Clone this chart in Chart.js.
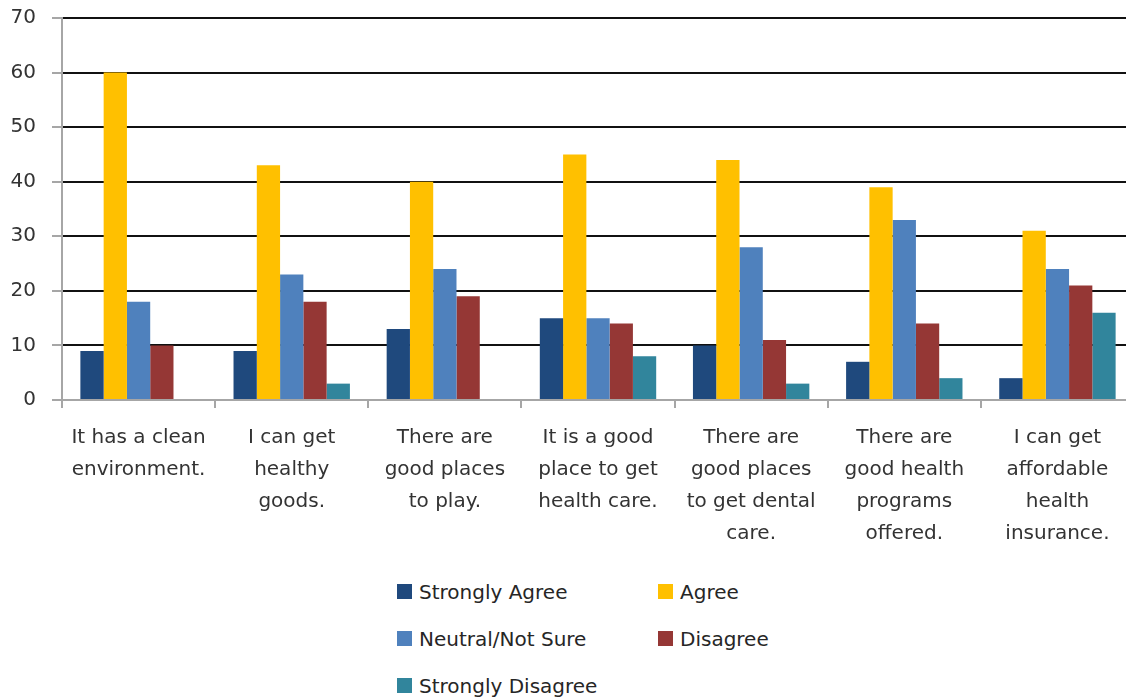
<!DOCTYPE html>
<html lang="en">
<head>
    <meta charset="UTF-8">
    <title>Community Health Survey</title>
    <script src="https://cdn.jsdelivr.net/npm/chart.js"></script>
    <style>
        body {
            margin: 0;
            background: #fff;
            font-family: "DejaVu Sans", sans-serif;
            overflow: hidden;
        }
        #wrap {
            position: relative;
            width: 1126px;
            height: 700px;
            overflow: hidden;
        }
        /* plot runs a little past the right edge, like the cropped original */
        #chartBox {
            position: absolute;
            left: 0;
            top: 0;
            width: 1134px;
            height: 560px;
        }
        #legend {
            position: absolute;
            left: 397px;
            top: 568px;
            display: grid;
            grid-template-columns: 261px auto;
            row-gap: 0;
        }
        .item {
            display: flex;
            align-items: center;
            height: 47px;
            font-size: 20px;
            color: #262626;
            white-space: nowrap;
        }
        .box {
            width: 15px;
            height: 15px;
            margin-right: 7px;
        }
    </style>
</head>
<body>
<div id="wrap">
    <div id="chartBox"><canvas id="surveyChart"></canvas></div>
    <div id="legend"></div>
</div>
<script>
    // statements (split into the lines shown under each group)
    const statements = [
        ['It has a clean', 'environment.'],
        ['I can get', 'healthy', 'goods.'],
        ['There are', 'good places', 'to play.'],
        ['It is a good', 'place to get', 'health care.'],
        ['There are', 'good places', 'to get dental', 'care.'],
        ['There are', 'good health', 'programs', 'offered.'],
        ['I can get', 'affordable', 'health', 'insurance.']
    ];

    const responses = ['Strongly Agree', 'Agree', 'Neutral/Not Sure', 'Disagree', 'Strongly Disagree'];

    const stronglyAgree    = [9, 9, 13, 15, 10, 7, 4];
    const agree            = [60, 43, 40, 45, 44, 39, 31];
    const neutral          = [18, 23, 24, 15, 28, 33, 24];
    const disagree         = [10, 18, 19, 14, 11, 14, 21];
    const stronglyDisagree = [0, 3, 0, 8, 3, 4, 16];

    const yTicks = [0, 10, 20, 30, 40, 50, 60, 70];

    const colors = ['#1F497D', '#FFC000', '#4F81BD', '#953735', '#31859C'];
    const series = [stronglyAgree, agree, neutral, disagree, stronglyDisagree];

    const font = { family: '"DejaVu Sans", sans-serif', size: 20 };

    const chart = new Chart(document.getElementById('surveyChart'), {
        type: 'bar',
        data: {
            labels: statements,
            datasets: responses.map((name, i) => ({
                label: name,
                data: series[i],
                backgroundColor: colors[i],
                borderWidth: 0,
                categoryPercentage: 0.76,
                barPercentage: 1.0
            }))
        },
        options: {
            responsive: true,
            maintainAspectRatio: false,
            animation: false,
            layout: { padding: { top: 0, right: 0, left: 0, bottom: 0 } },
            plugins: {
                legend: { display: false },
                tooltip: { enabled: false }
            },
            scales: {
                y: {
                    min: 0,
                    max: 70,
                    afterBuildTicks: scale => {
                        scale.ticks = yTicks.map(v => ({ value: v }));
                    },
                    afterFit: scale => {
                        scale.width = 62;
                        scale.paddingTop = 18;
                    },
                    ticks: {
                        font: { family: font.family, size: 20, lineHeight: 1.0 },
                        color: '#333',
                        padding: 16
                    },
                    grid: {
                        color: ctx => (ctx.tick && ctx.tick.value === 0) ? 'rgba(0,0,0,0)' : '#111',
                        lineWidth: 2,
                        tickColor: '#A6A6A6',
                        tickLength: 10
                    },
                    border: { color: '#A6A6A6', width: 2 }
                },
                x: {
                    afterFit: scale => { scale.height = 160; },
                    ticks: {
                        font: { family: font.family, size: 20, lineHeight: 1.6 },
                        color: '#333',
                        padding: 14,
                        maxRotation: 0,
                        autoSkip: false
                    },
                    grid: {
                        drawOnChartArea: false,
                        tickColor: '#A6A6A6',
                        tickLength: 8,
                        lineWidth: 2
                    },
                    border: { color: '#A6A6A6', width: 2 }
                }
            }
        }
    });

    // legend in two columns below the chart
    const legendEl = document.getElementById('legend');
    chart.data.datasets.forEach(ds => {
        const item = document.createElement('div');
        item.className = 'item';
        const box = document.createElement('span');
        box.className = 'box';
        box.style.background = ds.backgroundColor;
        item.appendChild(box);
        item.appendChild(document.createTextNode(ds.label));
        legendEl.appendChild(item);
    });
</script>
</body>
</html>
